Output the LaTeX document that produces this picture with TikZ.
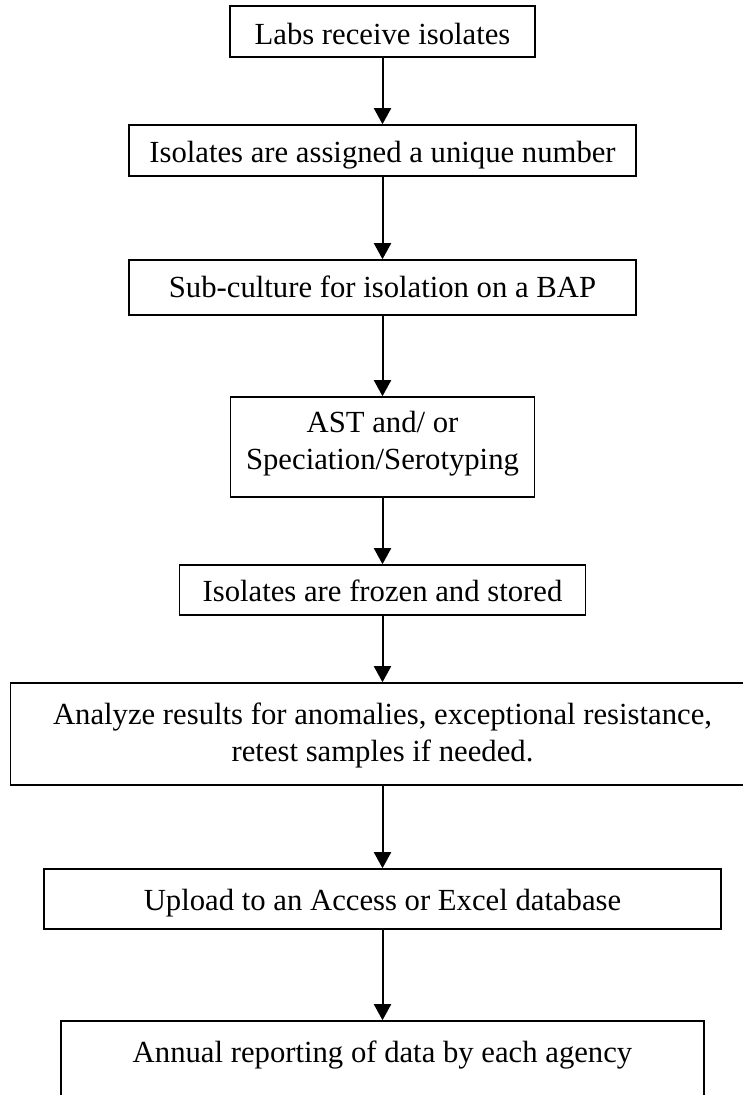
\documentclass[tikz,border=0pt]{standalone}
\usepackage{fontspec}
\setmainfont{Liberation Serif}
\usetikzlibrary{arrows.meta}
\begin{document}
\begin{tikzpicture}[x=1pt,y=-1pt,
  stepbox/.style={draw=black, line width=1.6pt, inner sep=0pt, fill=none},
  lbl/.style={inner sep=0pt, anchor=base, font=\fontsize{30.7}{36.8}\selectfont},
  flow/.style={line width=2pt, -{Triangle[width=17pt,length=16pt]}}]
\fill[white] (0,0) rectangle (743,1095);
\useasboundingbox (0,0) rectangle (743,1095);
\clip (0,0) rectangle (743,1095);
% boxes
\node[stepbox, minimum width=305pt, minimum height=51pt] (b1) at (382.5,31.5) {};
\node[stepbox, minimum width=507pt, minimum height=51pt] (b2) at (382.5,150.5) {};
\node[stepbox, minimum width=507pt, minimum height=55pt] (b3) at (382.5,287.5) {};
\node[stepbox, minimum width=304pt, minimum height=100pt] (b4) at (382.5,447) {};
\node[stepbox, minimum width=406pt, minimum height=50pt] (b5) at (382.5,590) {};
\node[stepbox, minimum width=744pt, minimum height=102pt] (b6) at (382.5,734) {};
\node[stepbox, minimum width=677pt, minimum height=60pt] (b7) at (382.5,899) {};
\node[stepbox, minimum width=643pt, minimum height=118pt] (b8) at (382.5,1080) {};
% texts
\node[lbl] (t1) at (382.5,44.3) {Labs receive isolates};
\node[lbl] (t2) at (382.5,162.3) {Isolates are assigned a unique number};
\node[lbl] (t3) at (382.5,297.5) {Sub-culture for isolation on a BAP};
\node[lbl] (t4a) at (382.5,432.7) {AST and/ or};
\node[lbl] (t4b) at (382.5,469.3) {Speciation/Serotyping};
\node[lbl] (t5) at (382.5,601) {Isolates are frozen and stored};
\node[lbl] (t6a) at (382.5,724.4) {Analyze results for anomalies, exceptional resistance,};
\node[lbl] (t6b) at (382.5,761.6) {retest samples if needed.};
\node[lbl] (t7) at (382.5,910.3) {Upload to an Access or Excel database};
\node[lbl] (t8) at (382.5,1062.7) {Annual reporting of data by each agency};
% connectors
\draw[flow] (b1.south) -- (b2.north);
\draw[flow] (b2.south) -- (b3.north);
\draw[flow] (b3.south) -- (b4.north);
\draw[flow] (b4.south) -- (b5.north);
\draw[flow] (b5.south) -- (b6.north);
\draw[flow] (b6.south) -- (b7.north);
\draw[flow] (b7.south) -- (b8.north);
\end{tikzpicture}
\end{document}
